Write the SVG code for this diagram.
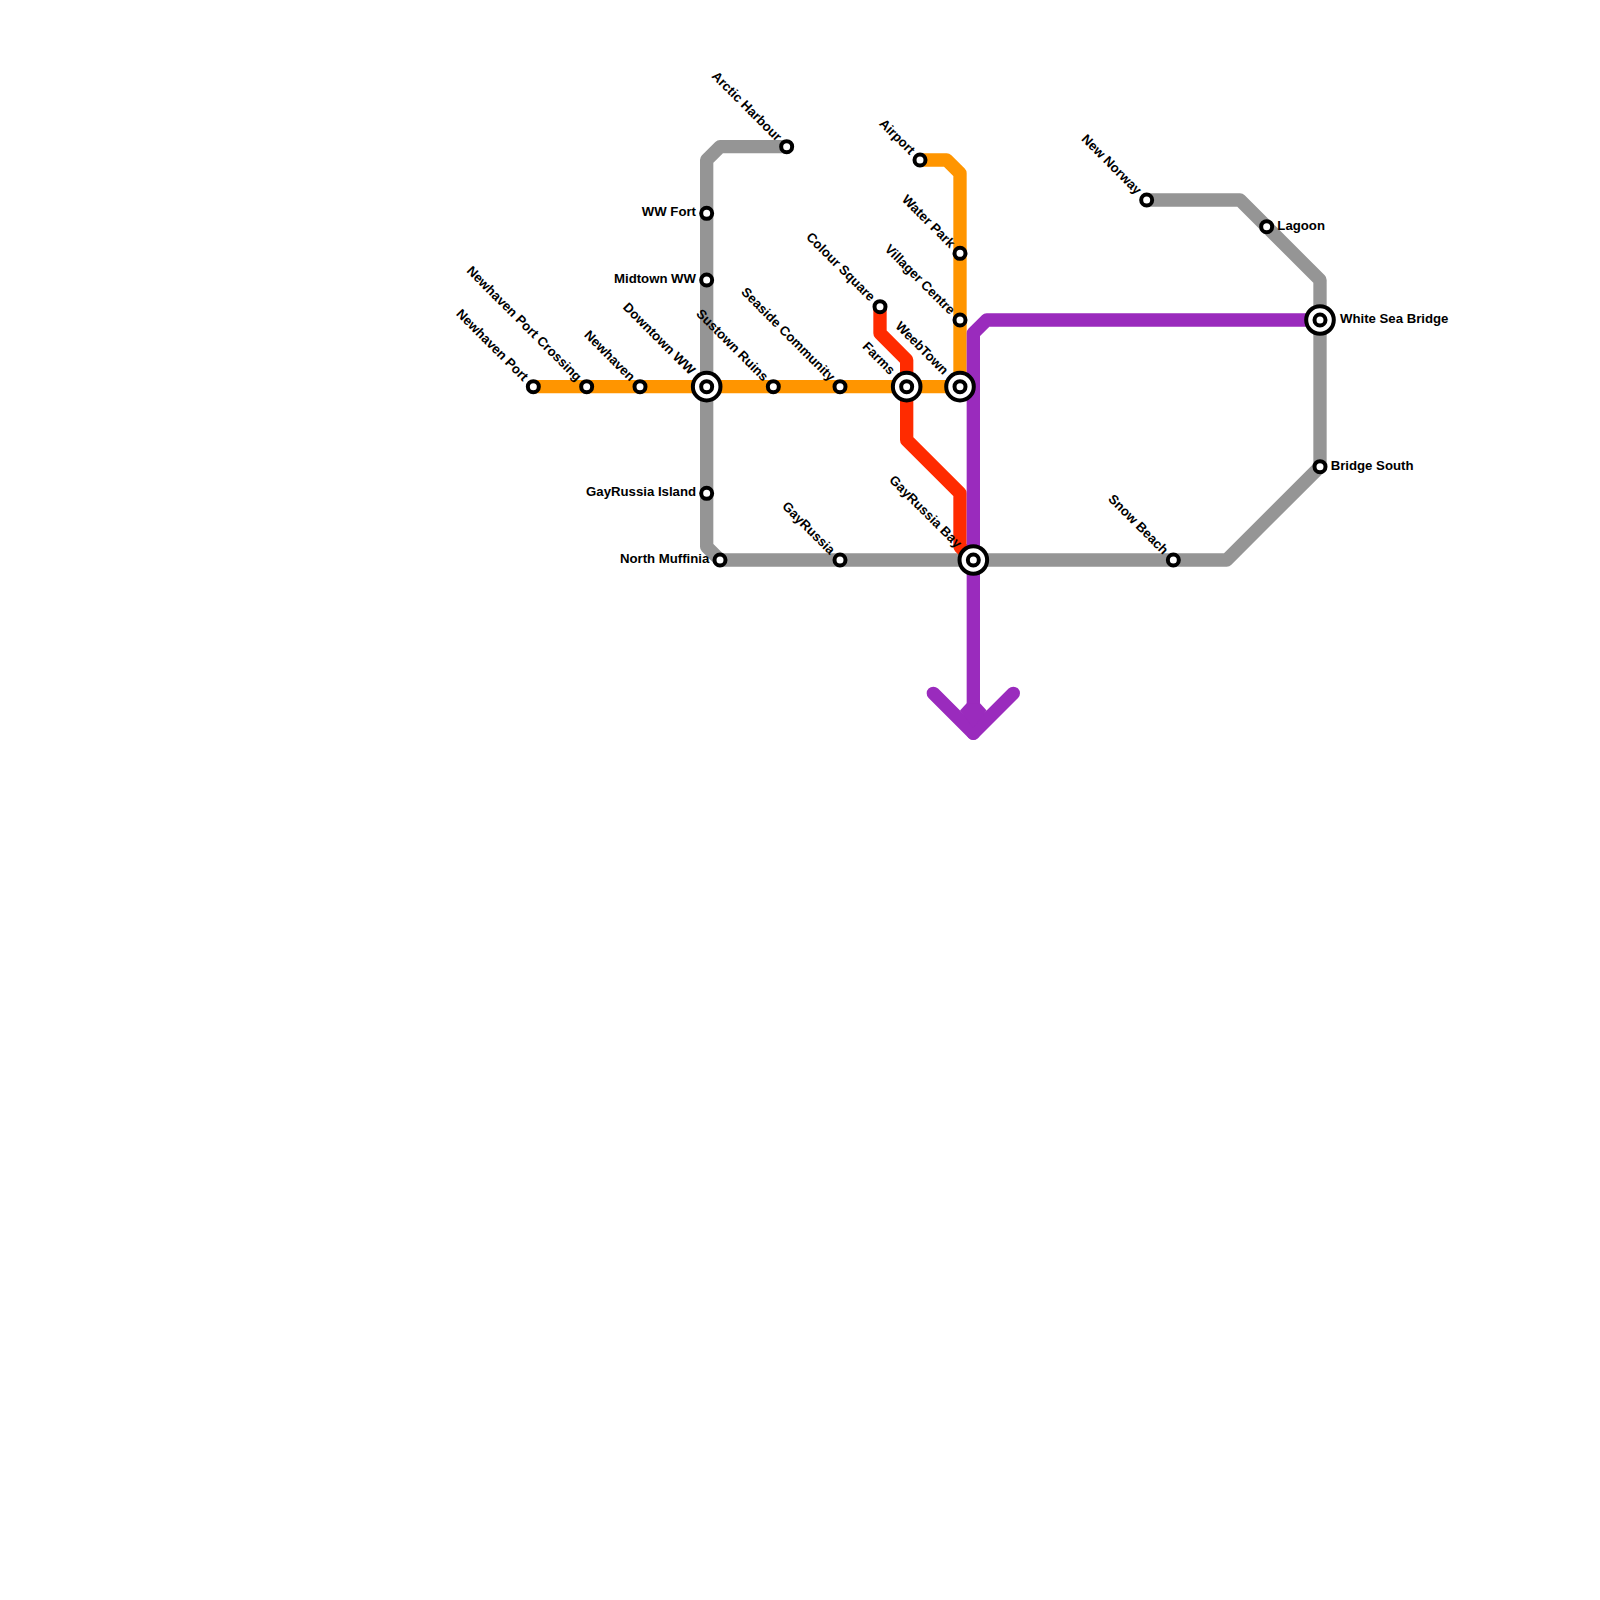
<svg xmlns="http://www.w3.org/2000/svg" width="1600" height="1600" viewBox="0 0 1600 1600">
<style>
.line{fill:none;stroke-width:13.33;stroke-linejoin:round;stroke-linecap:round}
.gray{stroke:#959595}.orange{stroke:#ff9500}.red{stroke:#ff2b00}.purple{stroke:#9a2bbd}
.tip{fill:#9a2bbd}
.st{fill:#fff;stroke:#000;stroke-width:4}
text{font-family:"Liberation Sans",Arial,sans-serif;font-size:13.2px;font-weight:700;fill:#000}
.e{text-anchor:end}
</style>
<defs>
<circle id="s" class="st" r="5.5"/>
<g id="x"><circle class="st" r="13.8"/><circle class="st" r="5.5"/></g>
</defs>
<rect width="1600" height="1600" fill="#fff"/>
<g id="connectors">
<path class="line gray" d="M786.67 146.67H720L706.67 160V546.67L720 560H1226.67L1320 466.67V280L1240 200H1146.67"/>
<path class="line orange" d="M533.33 386.67H960"/>
<path class="line orange" d="M920 160H946.67L960 173.33V386.67"/>
<path class="line red" d="M880 306.67V333.33L906.67 360V440L960 493.33V546.67L973.33 560"/>
<path class="line purple" d="M1320 320H986.67L973.33 333.33V733.33"/>
<path class="line purple" d="M933.33 693.33L973.33 733.33L1013.33 693.33"/>
<path class="tip" d="M960 710.6L966.67 703.33H980L986.67 710.6L973.33 728Z"/>
</g>
<g id="newhaven-port" transform="translate(533.33 386.67)"><use href="#s"/><text class="e" transform="rotate(45)" x="-10.67" y="4">Newhaven Port</text></g>
<g id="newhaven-port-crossing" transform="translate(586.67 386.67)"><use href="#s"/><text class="e" transform="rotate(45)" x="-10.67" y="4">Newhaven Port Crossing</text></g>
<g id="newhaven" transform="translate(640 386.67)"><use href="#s"/><text class="e" transform="rotate(45)" x="-10.67" y="4">Newhaven</text></g>
<g id="downtown-ww" transform="translate(706.67 386.67)"><use href="#x"/><text class="e" transform="rotate(45)" x="-20" y="4">Downtown WW</text></g>
<g id="sustown-ruins" transform="translate(773.33 386.67)"><use href="#s"/><text class="e" transform="rotate(45)" x="-10.67" y="4">Sustown Ruins</text></g>
<g id="seaside-community" transform="translate(840 386.67)"><use href="#s"/><text class="e" transform="rotate(45)" x="-10.67" y="4">Seaside Community</text></g>
<g id="farms" transform="translate(906.67 386.67)"><use href="#x"/><text class="e" transform="rotate(45)" x="-20" y="4">Farms</text></g>
<g id="weebtown" transform="translate(960 386.67)"><use href="#x"/><text class="e" transform="rotate(45)" x="-20" y="4">WeebTown</text></g>
<g id="arctic-harbour" transform="translate(786.67 146.67)"><use href="#s"/><text class="e" transform="rotate(45)" x="-10.67" y="4">Arctic Harbour</text></g>
<g id="ww-fort" transform="translate(706.67 213.33)"><use href="#s"/><text class="e" x="-10.67" y="3">WW Fort</text></g>
<g id="midtown-ww" transform="translate(706.67 280)"><use href="#s"/><text class="e" x="-10.67" y="3">Midtown WW</text></g>
<g id="gayrussia-island" transform="translate(706.67 493.33)"><use href="#s"/><text class="e" x="-10.67" y="3">GayRussia Island</text></g>
<g id="north-muffinia" transform="translate(720 560)"><use href="#s"/><text class="e" x="-10.67" y="3">North Muffinia</text></g>
<g id="gayrussia" transform="translate(840 560)"><use href="#s"/><text class="e" transform="rotate(45)" x="-10.67" y="4">GayRussia</text></g>
<g id="gayrussia-bay" transform="translate(973.33 560)"><use href="#x"/><text class="e" transform="rotate(45)" x="-20" y="4">GayRussia Bay</text></g>
<g id="snow-beach" transform="translate(1173.33 560)"><use href="#s"/><text class="e" transform="rotate(45)" x="-10.67" y="4">Snow Beach</text></g>
<g id="bridge-south" transform="translate(1320 466.67)"><use href="#s"/><text x="10.67" y="3">Bridge South</text></g>
<g id="white-sea-bridge" transform="translate(1320 320)"><use href="#x"/><text x="20" y="3">White Sea Bridge</text></g>
<g id="lagoon" transform="translate(1266.67 226.67)"><use href="#s"/><text x="10.67" y="3">Lagoon</text></g>
<g id="new-norway" transform="translate(1146.67 200)"><use href="#s"/><text class="e" transform="rotate(45)" x="-10.67" y="4">New Norway</text></g>
<g id="airport" transform="translate(920 160)"><use href="#s"/><text class="e" transform="rotate(45)" x="-10.67" y="4">Airport</text></g>
<g id="water-park" transform="translate(960 253.33)"><use href="#s"/><text class="e" transform="rotate(45)" x="-10.67" y="4">Water Park</text></g>
<g id="villager-centre" transform="translate(960 320)"><use href="#s"/><text class="e" transform="rotate(45)" x="-10.67" y="4">Villager Centre</text></g>
<g id="colour-square" transform="translate(880 306.67)"><use href="#s"/><text class="e" transform="rotate(45)" x="-10.67" y="4">Colour Square</text></g>
</svg>
